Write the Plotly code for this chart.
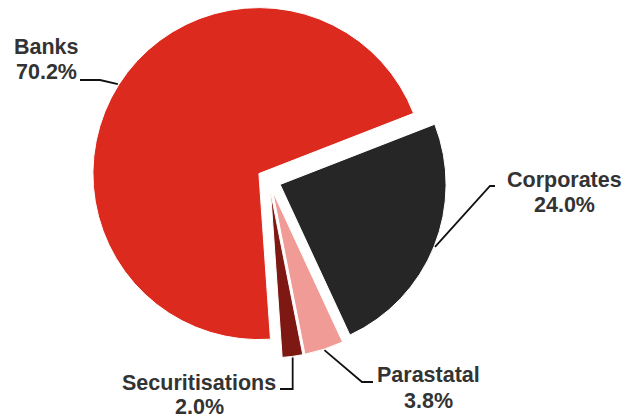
import math
import plotly.graph_objects as go

# ---- data ----
categories = ["Banks", "Corporates", "Parastatal", "Securitisations"]
shares = [70.2, 24.0, 3.8, 2.0]
share_labels = ["70.2%", "24.0%", "3.8%", "2.0%"]
colors = ["#dc2a1f", "#262626", "#f19b97", "#7e1813"]

# ---- layout constants (pixels) ----
W, H = 637, 419
CX, CY = 269, 180          # pie centre
R = 166                    # pie radius
PULL = 0.072               # pull-out fraction of radius
ROT = 176                  # start angle (clockwise from 12 o'clock)
HALF = R * (1 + PULL)

# label placement: text centre x, line-1 y, line-2 y, connector end point, bend point
label_style = {
    "Banks":           dict(x=46,  y1=47.5, y2=71.5, end=(80, 80),   bend=(100, 80)),
    "Corporates":      dict(x=564, y1=180,  y2=204.5, end=(495, 186), bend=(490, 186)),
    "Parastatal":      dict(x=428, y1=374.5, y2=400.5, end=(373, 382), bend=(362, 382)),
    "Securitisations": dict(x=199, y1=382.5, y2=407, end=(280, 389), bend=(None, 389)),
}

def px(x):
    return x / W

def py(y):
    return 1 - y / H

fig = go.Figure(go.Pie(
    labels=categories,
    values=shares,
    sort=False,
    direction="clockwise",
    rotation=ROT,
    pull=[PULL] * len(shares),
    marker=dict(colors=colors, line=dict(color="white", width=1)),
    textinfo="none",
    hoverinfo="label+percent",
    showlegend=False,
    domain=dict(x=[px(CX - HALF), px(CX + HALF)], y=[py(CY + HALF), py(CY - HALF)]),
))

annotations = []
shapes = []
total = sum(shares)
acc = 0.0
for cat, val, lab in zip(categories, shares, share_labels):
    mid = ROT + (acc + val / 2) / total * 360
    acc += val
    a = math.radians(mid)
    dx, dy = math.sin(a), -math.cos(a)
    rr = R * (1 + PULL) + 1
    ex, ey = CX + rr * dx, CY + rr * dy
    st = label_style[cat]
    bx, by = st["bend"]
    if bx is None:
        bx = ex
    path = "M {} {} L {} {} L {} {}".format(
        px(ex), py(ey), px(bx), py(by), px(st["end"][0]), py(st["end"][1]))
    shapes.append(dict(type="path", xref="paper", yref="paper", path=path,
                       line=dict(color="#111111", width=1.8)))
    for txt, yy in ((cat, st["y1"]), (lab, st["y2"])):
        annotations.append(dict(
            x=px(st["x"]), y=py(yy), xref="paper", yref="paper",
            text="<b>" + txt + "</b>", showarrow=False,
            xanchor="center", yanchor="middle",
            font=dict(family="Liberation Sans, Arial, sans-serif", size=21.5, color="#333333"),
        ))

fig.update_layout(
    width=W, height=H,
    margin=dict(l=0, r=0, t=0, b=0),
    paper_bgcolor="white",
    plot_bgcolor="white",
    annotations=annotations,
    shapes=shapes,
)

fig.write_html("out.html", config={"displayModeBar": False},
               post_script="document.body.style.margin='0';")
